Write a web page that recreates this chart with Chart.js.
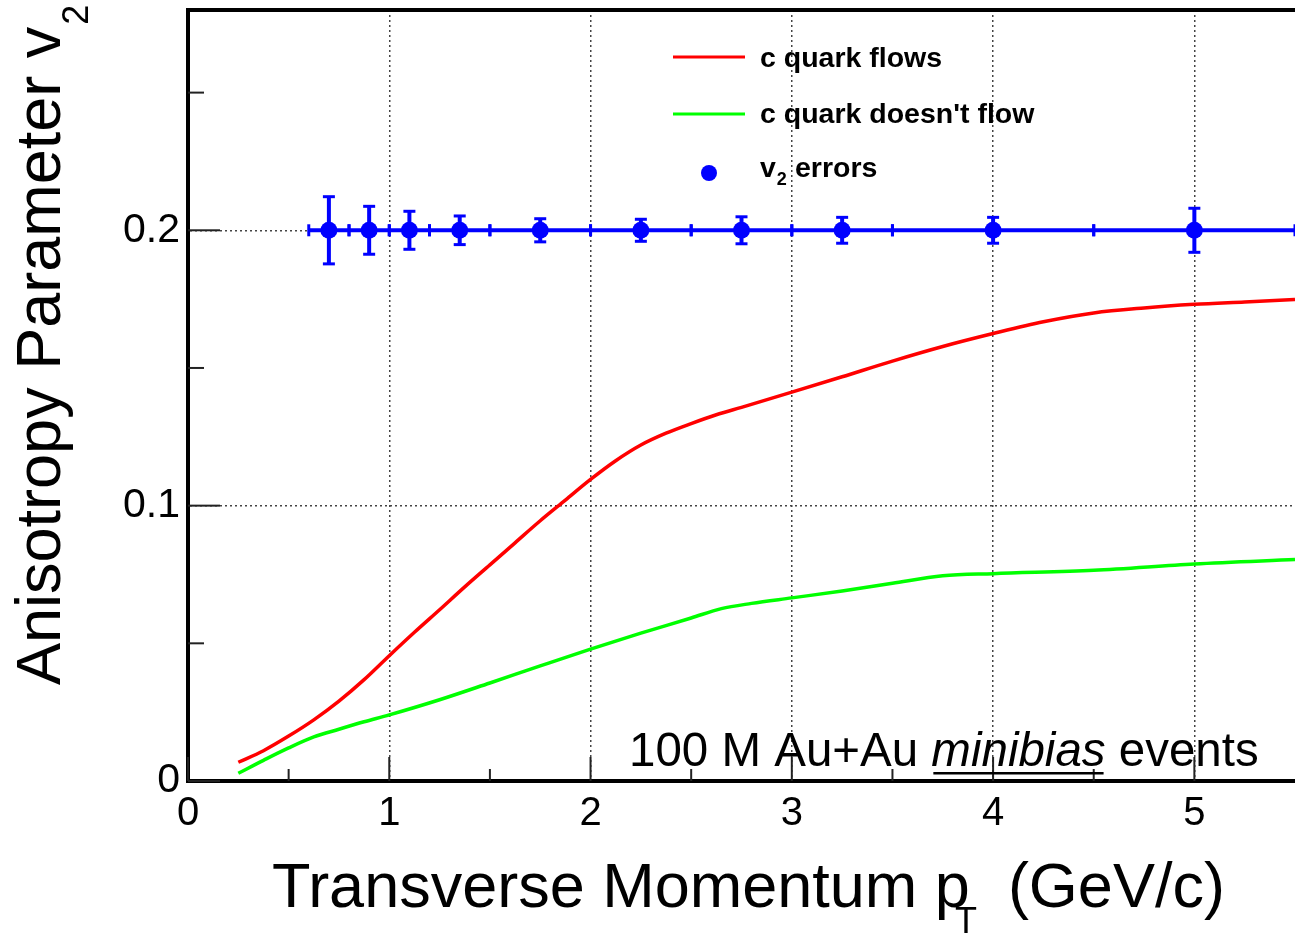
<!DOCTYPE html>
<html>
<head>
<meta charset="utf-8">
<title>Charm v2 vs pT</title>
<script src="https://cdn.jsdelivr.net/npm/chart.js@4.4.1/dist/chart.umd.min.js"></script>
<style>
    html, body { margin: 0; padding: 0; background: #fff; }
    canvas { display: block; }
</style>
</head>
<body>
<canvas id="v2Chart" width="1295" height="935"></canvas>
<script>
// ---- Data -------------------------------------------------------------------
// Red curve: c quark flows
const ptFlow = [0.25, 0.375, 0.5, 0.625, 0.75, 0.875, 1.0, 1.125, 1.25, 1.375, 1.5, 1.625,
                1.75, 1.875, 2.0, 2.125, 2.25, 2.375, 2.5, 2.625, 2.75, 3.0, 3.25, 3.5,
                3.75, 4.0, 4.25, 4.5, 4.75, 5.0, 5.25, 5.5];
const v2Flow = [0.0068, 0.0110, 0.0163, 0.0222, 0.0290, 0.0368, 0.0455, 0.0540, 0.0622, 0.0705, 0.0785, 0.0865,
                0.0945, 0.1020, 0.1095, 0.1163, 0.1220, 0.1263, 0.1298, 0.1330, 0.1357, 0.1412, 0.1468, 0.1525,
                0.1578, 0.1625, 0.1668, 0.1700, 0.1718, 0.1731, 0.1740, 0.1749];

// Green curve: c quark doesn't flow
const ptNoFlow = [0.25, 0.375, 0.5, 0.625, 0.75, 0.875, 1.0, 1.25, 1.5, 1.75, 2.0, 2.25,
                  2.5, 2.65, 2.8, 3.0, 3.25, 3.5, 3.75, 4.0, 4.5, 5.0, 5.5];
const v2NoFlow = [0.0028, 0.0075, 0.0120, 0.0160, 0.0188, 0.0215, 0.0240, 0.0295, 0.0356, 0.0418, 0.0479, 0.0537,
                  0.0592, 0.0626, 0.0645, 0.0665, 0.0690, 0.0718, 0.0745, 0.0753, 0.0765, 0.0788, 0.0804];

// Blue points: projected v2 errors (bin centres, value, half error, bin edges)
const ptErr = [0.7, 0.9, 1.1, 1.35, 1.75, 2.25, 2.75, 3.25, 4.0, 5.0];
const v2Err = [0.2, 0.2, 0.2, 0.2, 0.2, 0.2, 0.2, 0.2, 0.2, 0.2];
const v2ErrSize = [0.0122, 0.0087, 0.0069, 0.0052, 0.0042, 0.0040, 0.0049, 0.0047, 0.0047, 0.0080];
const binEdges = [0.6, 0.8, 1.0, 1.2, 1.5, 2.0, 2.5, 3.0, 3.5, 4.5, 5.5];

// Axis ticks
const xMajorTicks = [0, 1, 2, 3, 4, 5];
const xTickLabels = ['0', '1', '2', '3', '4', '5'];
const xMinorTicks = [0.5, 1.5, 2.5, 3.5, 4.5];
const yMajorTicks = [0, 0.1, 0.2];
const yTickLabels = ['0', '0.1', '0.2'];
const yMinorTicks = [0.05, 0.15, 0.25];

// ---- Style --------------------------------------------------------------------
const FONT = '"Liberation Sans", Arial, Helvetica, sans-serif';
const RED = '#ff0000';
const GREEN = '#00ff00';
const BLUE = '#0000ff';

// ---- Error bars (ROOT-style: bin-width bars + vertical errors) ---------------
const errorBars = {
    id: 'errorBars',
    afterDatasetsDraw(chart) {
        const { ctx, chartArea: a, scales: { x, y } } = chart;
        ctx.save();
        ctx.beginPath();
        ctx.rect(a.left, a.top, a.right - a.left + 3, a.bottom - a.top);
        ctx.clip();
        ctx.strokeStyle = BLUE;
        ctx.lineCap = 'butt';
        const seg = (x1, y1, x2, y2, w) => {
            ctx.lineWidth = w;
            ctx.beginPath(); ctx.moveTo(x1, y1); ctx.lineTo(x2, y2); ctx.stroke();
        };
        ptErr.forEach((pt, i) => {
            const py = y.getPixelForValue(v2Err[i]);
            const xl = x.getPixelForValue(binEdges[i]);
            const xr = x.getPixelForValue(binEdges[i + 1]);
            seg(xl, py, xr, py, 4);
            seg(xl, py - 6, xl, py + 6, 3);
            seg(xr, py - 6, xr, py + 6, 3);
            const px = x.getPixelForValue(pt);
            const yt = y.getPixelForValue(v2Err[i] + v2ErrSize[i]);
            const yb = y.getPixelForValue(v2Err[i] - v2ErrSize[i]);
            seg(px, yt, px, yb, 4);
            seg(px - 6, yt, px + 6, yt, 3);
            seg(px - 6, yb, px + 6, yb, 3);
        });
        ctx.restore();
    }
};

// ---- Inward ticks and top frame line -------------------------------------------
const frameTicks = {
    id: 'frameTicks',
    afterDraw(chart) {
        const { ctx, chartArea: a, scales: { x, y } } = chart;
        ctx.save();
        ctx.strokeStyle = '#000';
        ctx.lineWidth = 4;
        ctx.beginPath(); ctx.moveTo(a.left - 2, a.top); ctx.lineTo(a.right, a.top); ctx.stroke();
        ctx.strokeStyle = '#222';
        ctx.lineWidth = 2;
        const tick = (x1, y1, x2, y2) => {
            ctx.beginPath(); ctx.moveTo(x1, y1); ctx.lineTo(x2, y2); ctx.stroke();
        };
        xMajorTicks.forEach(v => { const p = x.getPixelForValue(v); tick(p, a.bottom, p, a.bottom - 24); });
        xMinorTicks.forEach(v => { const p = x.getPixelForValue(v); tick(p, a.bottom, p, a.bottom - 12); });
        yMajorTicks.forEach(v => { const p = y.getPixelForValue(v); tick(a.left, p, a.left + 32, p); });
        yMinorTicks.forEach(v => { const p = y.getPixelForValue(v); tick(a.left, p, a.left + 16, p); });
        ctx.restore();
    }
};

// ---- Titles, legend box and annotation -----------------------------------------
const textLayer = {
    id: 'textLayer',
    afterDraw(chart) {
        const { ctx } = chart;
        ctx.save();
        ctx.fillStyle = '#000';
        ctx.textBaseline = 'alphabetic';
        ctx.textAlign = 'left';

        // x axis title with subscript T
        ctx.font = '63px ' + FONT;
        const mainX = 'Transverse Momentum p';
        const wMain = ctx.measureText(mainX).width;
        ctx.fillText(mainX, 272, 907);
        ctx.fillText('(GeV/c)', 272 + wMain + 38, 907);
        ctx.font = '36px ' + FONT;
        ctx.fillText('T', 272 + wMain - 15, 933);

        // y axis title, rotated, with subscript 2
        ctx.save();
        ctx.translate(60, 685);
        ctx.rotate(-Math.PI / 2);
        ctx.font = '63px ' + FONT;
        const mainY = 'Anisotropy Parameter v';
        const wY = ctx.measureText(mainY).width;
        ctx.fillText(mainY, 0, 0);
        ctx.font = '36px ' + FONT;
        ctx.fillText('2', wY + 2, 28);
        ctx.restore();

        // legend
        const ds = chart.data.datasets;
        ctx.lineWidth = 3;
        [[ds[0], 57, 67], [ds[1], 114, 123]].forEach(([d, ly, by]) => {
            ctx.strokeStyle = d.borderColor;
            ctx.beginPath(); ctx.moveTo(673, ly); ctx.lineTo(745, ly); ctx.stroke();
            ctx.font = 'bold 28.5px ' + FONT;
            ctx.fillText(d.label, 760, by);
        });
        ctx.fillStyle = BLUE;
        ctx.beginPath(); ctx.arc(709, 173, 8, 0, Math.PI * 2); ctx.fill();
        ctx.fillStyle = '#000';
        ctx.font = 'bold 28.5px ' + FONT;
        ctx.fillText('v', 760, 177);
        const wv = ctx.measureText('v').width;
        ctx.font = 'bold 18px ' + FONT;
        ctx.fillText('2', 760 + wv + 1, 185);
        ctx.font = 'bold 28.5px ' + FONT;
        ctx.fillText('errors', 795, 177);

        // annotation
        const base = 766;
        let tx = 629;
        ctx.font = '47.5px ' + FONT;
        ctx.fillText('100 M Au+Au ', tx, base);
        tx += ctx.measureText('100 M Au+Au ').width;
        ctx.font = 'italic 47.5px ' + FONT;
        const wIt = ctx.measureText('minibias').width;
        ctx.fillText('minibias', tx, base);
        ctx.fillRect(tx + 2, base + 6, wIt - 4, 2.5);
        tx += wIt;
        ctx.font = '47.5px ' + FONT;
        ctx.fillText(' events', tx, base);
        ctx.restore();
    }
};

// ---- Chart ----------------------------------------------------------------------
const toXY = (xs, ys) => xs.map((v, i) => ({ x: v, y: ys[i] }));

const chart = new Chart(document.getElementById('v2Chart'), {
    type: 'line',
    data: {
        datasets: [
            {
                label: 'c quark flows',
                data: toXY(ptFlow, v2Flow),
                borderColor: RED,
                borderWidth: 3.5,
                pointRadius: 0,
                cubicInterpolationMode: 'monotone'
            },
            {
                label: "c quark doesn't flow",
                data: toXY(ptNoFlow, v2NoFlow),
                borderColor: GREEN,
                borderWidth: 3.5,
                pointRadius: 0,
                cubicInterpolationMode: 'monotone'
            },
            {
                label: 'v2 errors',
                data: toXY(ptErr, v2Err),
                showLine: false,
                pointRadius: 8.5,
                pointBackgroundColor: BLUE,
                pointBorderWidth: 0,
                borderColor: BLUE
            }
        ]
    },
    options: {
        responsive: false,
        animation: false,
        layout: { autoPadding: false, padding: { top: 10, right: 0, bottom: 0, left: 0 } },
        plugins: {
            legend: { display: false },
            tooltip: { enabled: false }
        },
        scales: {
            x: {
                type: 'linear',
                min: 0,
                max: 5.5,
                afterBuildTicks: (scale) => { scale.ticks = xMajorTicks.map(v => ({ value: v })); },
                afterFit: (scale) => {
                    scale.height = 154;
                    scale.paddingLeft = 0;
                    scale.paddingRight = 0;
                },
                ticks: {
                    callback: (value, index) => xTickLabels[index],
                    color: '#000',
                    font: { family: FONT, size: 40 },
                    padding: 9,
                    maxRotation: 0
                },
                grid: { color: '#444', lineWidth: 1.5, drawTicks: false },
                border: { display: true, color: '#000', width: 4, dash: [2, 3] }
            },
            y: {
                type: 'linear',
                min: 0,
                max: 0.28,
                afterBuildTicks: (scale) => { scale.ticks = yMajorTicks.map(v => ({ value: v })); },
                afterFit: (scale) => {
                    scale.width = 188;
                    scale.paddingTop = 0;
                    scale.paddingBottom = 0;
                },
                ticks: {
                    callback: (value, index) => yTickLabels[index],
                    color: '#000',
                    font: { family: FONT, size: 41 },
                    padding: 8
                },
                grid: { color: '#444', lineWidth: 1.5, drawTicks: false },
                border: { display: true, color: '#000', width: 4, dash: [2, 3] }
            }
        }
    },
    plugins: [errorBars, frameTicks, textLayer]
});
</script>
</body>
</html>
